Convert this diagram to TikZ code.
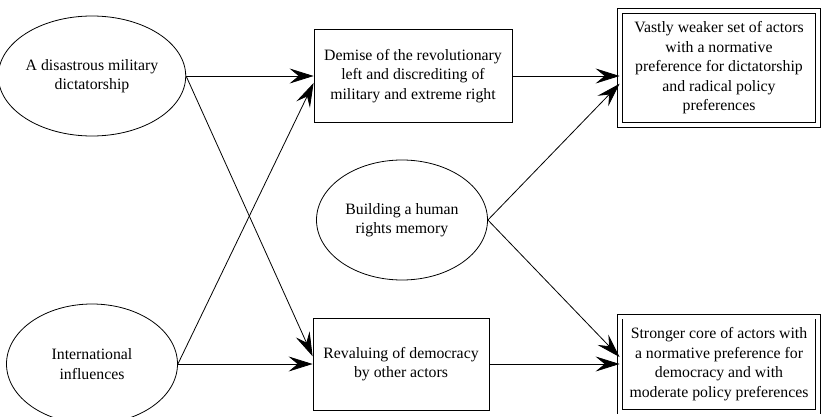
\documentclass[tikz,border=0pt]{standalone}
\usepackage{fontspec}
\setmainfont{Liberation Serif}
\usetikzlibrary{shapes.geometric,arrows.meta}
\begin{document}
\begin{tikzpicture}[x=1pt, y=-1pt,
    every node/.style={font=\fontsize{15.8}{19.5}\selectfont, align=center, line width=0.8pt},
    cause/.style={ellipse, draw, minimum width=171pt, minimum height=120pt, inner sep=0pt},
    factor/.style={rectangle, draw, inner sep=0pt},
    outcome/.style={rectangle, draw, double, double distance=4pt, minimum width=198pt, inner sep=0pt},
    arr/.style={-{Stealth[length=24pt, width=15pt, inset=9pt]}, line width=0.8pt}]
    \useasboundingbox (0,0) rectangle (822,417);
    \node[cause] (dict) at (92,76) {A disastrous military\\dictatorship};
    \node[cause] (intl) at (92,364) {International\\influences};
    \node[cause] (mem) at (402,220) {Building a human\\rights memory};
    \node[factor, minimum width=198pt, minimum height=93pt] (demise) at (413,76) {Demise of the revolutionary\\left and discrediting of\\military and extreme right};
    \node[factor, minimum width=176pt, minimum height=92pt] (rev) at (401,364) {Revaluing of democracy\\by other actors};
    \node[outcome, minimum height=114pt] (vast) at (719,68) {Vastly weaker set of actors\\with a normative\\preference for dictatorship\\and radical policy\\preferences};
    \node[outcome, minimum height=95pt] (strong) at (719,364) {Stronger core of actors with\\a normative preference for\\democracy and with\\moderate policy preferences};
    \path (dict) edge[arr] (demise);
    \path (dict.east) edge[arr] (rev.175);
    \path (intl.east) edge[arr] (demise.184);
    \path (intl) edge[arr] (rev);
    \path (demise.east) edge[arr] (demise.east -| vast.west);
    \path (mem.east) edge[arr] (vast.189);
    \path (mem.east) edge[arr] (strong.176);
    \path (rev) edge[arr] (strong);
\end{tikzpicture}
\end{document}
